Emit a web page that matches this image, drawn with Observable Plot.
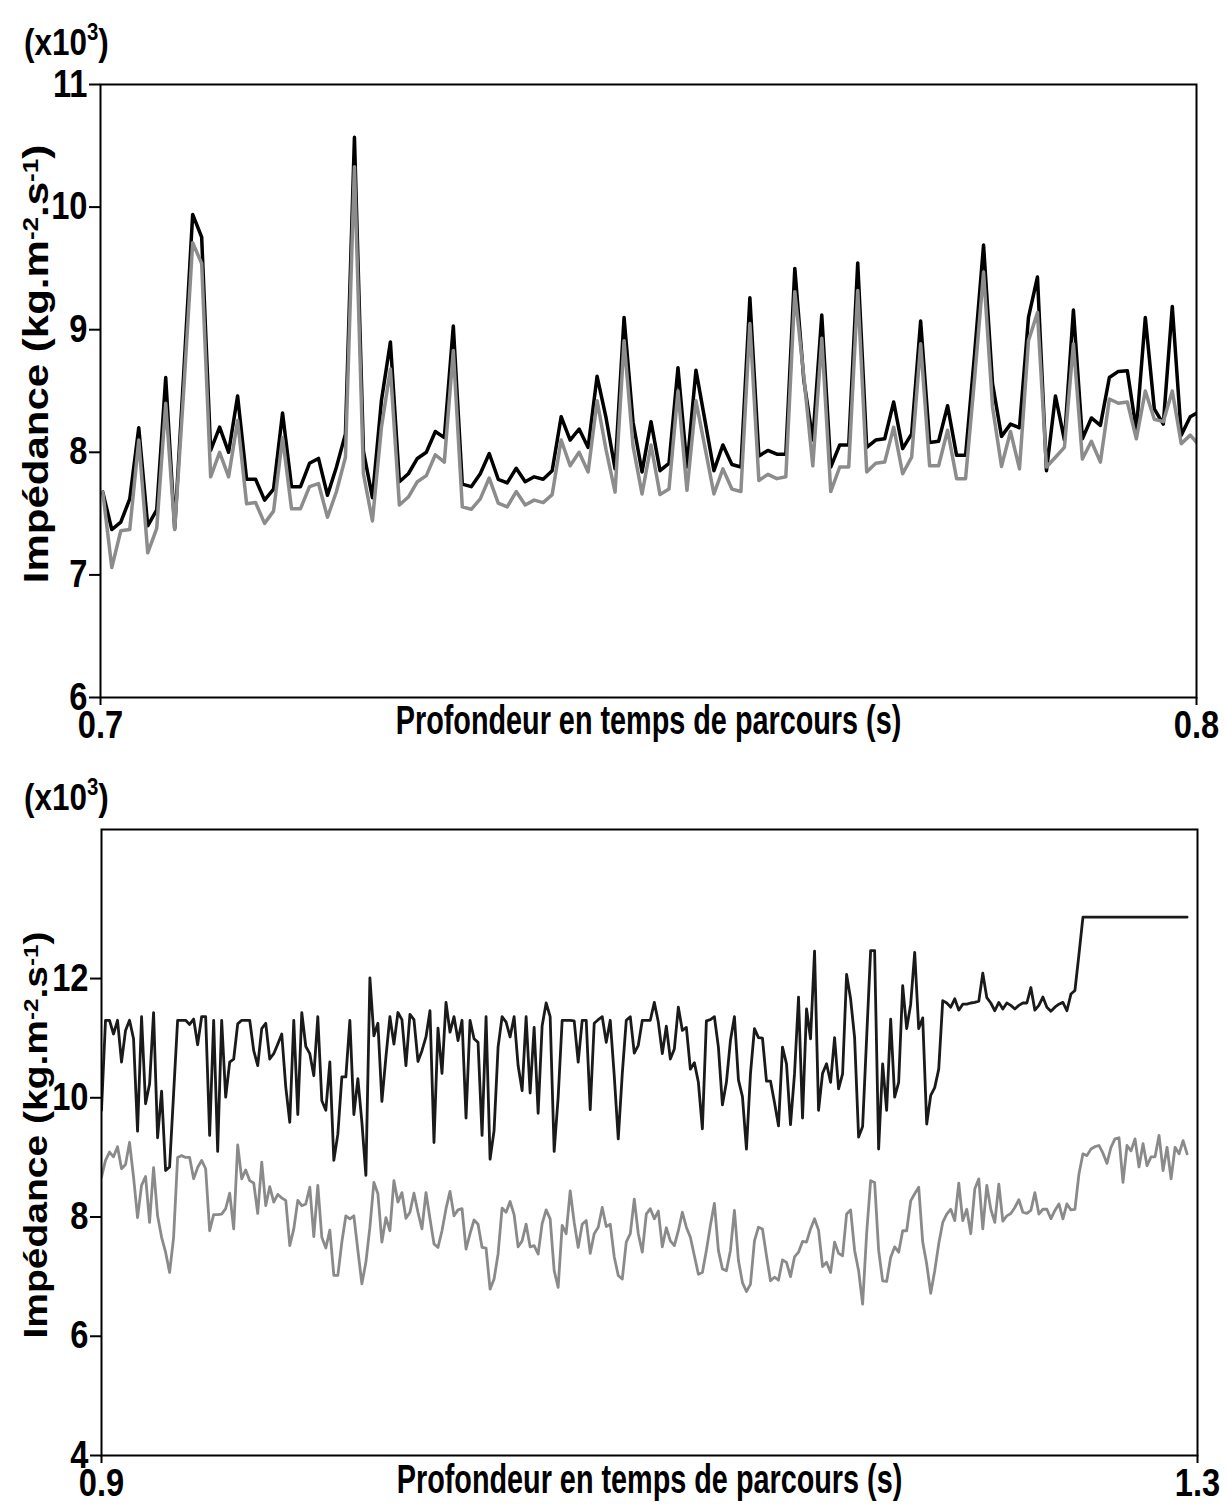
<!DOCTYPE html>
<html>
<head>
<meta charset="utf-8">
<script src="https://cdn.jsdelivr.net/npm/d3@7"></script>
<script src="https://cdn.jsdelivr.net/npm/@observablehq/plot@0.6"></script>
<style>
  body { margin: 0; background: #fff; }
  #wrap { position: relative; width: 1227px; height: 1504px; overflow: hidden; background: #fff;
          font-family: "Liberation Sans", Arial, sans-serif; font-weight: bold; color: #000; }
  .panel { position: absolute; left: 0; }
  .unit { position: absolute; left: 24px; font-size: 37px; line-height: 1; white-space: nowrap;
          transform: scaleX(0.85); transform-origin: 0 0; }
  .unit sup { font-size: 24px; vertical-align: 0; position: relative; top: -15px; }
  .ylab { position: absolute; white-space: nowrap; line-height: 1;
          transform: translate(-50%, -50%) rotate(-90deg) scaleY(0.85); }
  .ylab sup { font-size: 0.62em; vertical-align: 0; position: relative; top: -0.45em; }
</style>
</head>
<body>
<div id="wrap">
  <div class="unit" style="top:24px">(x10<sup>3</sup>)</div>
  <div class="unit" style="top:779px">(x10<sup>3</sup>)</div>
  <div class="ylab" style="left:36px; top:364px; font-size:42px">Impédance (kg.m<sup>-2</sup>.s<sup>-1</sup>)</div>
  <div class="ylab" style="left:36px; top:1135px; font-size:39px">Impédance (kg.m<sup>-2</sup>.s<sup>-1</sup>)</div>
</div>
<script>
// ---------- Top panel: 0.7 – 0.8 s ----------
const topStart = 0.70021;      // first sample time (s)
const topStep = 0.00082;       // sample interval (s)
const topBlack = [
  7.675, 7.37, 7.43, 7.62, 8.20, 7.40, 7.53, 8.61, 7.38, 8.64,
  9.94, 9.755, 8.015, 8.205, 8.00, 8.46, 7.78, 7.78, 7.61, 7.70,
  8.32, 7.72, 7.72, 7.91, 7.95, 7.65, 7.88, 8.15, 10.57, 8.01,
  7.63, 8.42, 8.90, 7.76, 7.825, 7.95, 8.00, 8.17, 8.12, 9.03,
  7.74, 7.72, 7.825, 7.99, 7.78, 7.75, 7.87, 7.76, 7.80, 7.78,
  7.85, 8.29, 8.10, 8.19, 8.04, 8.62, 8.28, 7.865, 9.10, 8.245,
  7.84, 8.25, 7.85, 7.91, 8.69, 7.88, 8.67, 8.26, 7.85, 8.06,
  7.90, 7.88, 9.26, 7.97, 8.015, 7.985, 7.985, 9.50, 8.59, 8.10,
  9.12, 7.88, 8.06, 8.06, 9.545, 8.04, 8.10, 8.11, 8.41, 8.03,
  8.15, 9.07, 8.08, 8.09, 8.38, 7.975, 7.975, 8.80, 9.69, 8.56,
  8.13, 8.23, 8.20, 9.10, 9.43, 7.85, 8.46, 8.10, 9.16, 8.11,
  8.28, 8.22, 8.61, 8.66, 8.665, 8.18, 9.10, 8.355, 8.23, 9.19,
  8.14, 8.29, 8.33
];
const topGray = [
  7.675, 7.06, 7.36, 7.37, 8.10, 7.18, 7.38, 8.40, 7.37, 8.50,
  9.71, 9.54, 7.80, 8.00, 7.80, 8.26, 7.58, 7.59, 7.42, 7.52,
  8.12, 7.54, 7.54, 7.72, 7.745, 7.47, 7.68, 7.96, 10.33, 7.825,
  7.44, 8.20, 8.68, 7.57, 7.635, 7.76, 7.81, 7.98, 7.92, 8.83,
  7.555, 7.535, 7.62, 7.79, 7.585, 7.555, 7.68, 7.57, 7.61, 7.59,
  7.655, 8.10, 7.89, 8.00, 7.84, 8.42, 8.02, 7.675, 8.91, 8.05,
  7.66, 8.06, 7.655, 7.70, 8.50, 7.69, 8.42, 8.04, 7.66, 7.865,
  7.70, 7.68, 9.05, 7.77, 7.82, 7.785, 7.80, 9.31, 8.62, 7.89,
  8.93, 7.68, 7.88, 7.88, 9.32, 7.84, 7.91, 7.92, 8.205, 7.825,
  7.96, 8.885, 7.89, 7.89, 8.18, 7.785, 7.785, 8.60, 9.47, 8.37,
  7.885, 8.17, 7.865, 8.91, 9.14, 7.88, 7.96, 8.04, 8.885, 7.945,
  8.09, 7.92, 8.435, 8.40, 8.41, 8.11, 8.50, 8.27, 8.25, 8.50,
  8.07, 8.14, 8.055
];
const topXTicks = [0.7, 0.8];
const topYTicks = [6, 7, 8, 9, 10, 11];

// ---------- Bottom panel: 0.9 – 1.3 s ----------
const botStart = 0.9;
const botStep = 0.001462;
const botBlack = [
  9.79, 11.30, 11.30, 11.07, 11.30, 10.60, 11.13, 11.30, 10.99, 9.44,
  11.36, 9.90, 10.23, 11.43, 9.33, 10.11, 8.78, 8.84, 10.07, 11.30,
  11.30, 11.30, 11.23, 11.32, 10.89, 11.36, 11.36, 9.37, 11.30, 9.10,
  11.30, 10.01, 10.60, 10.65, 11.24, 11.30, 11.30, 11.30, 10.79, 10.54,
  11.16, 11.25, 10.65, 10.74, 10.90, 11.07, 10.18, 9.59, 11.30, 9.72,
  11.43, 10.86, 10.74, 10.37, 11.36, 9.95, 9.79, 10.60, 8.95, 9.39,
  10.35, 10.35, 11.30, 9.72, 10.32, 9.59, 8.70, 12.01, 11.04, 11.25,
  9.94, 10.68, 11.36, 10.90, 11.43, 11.31, 10.54, 11.40, 11.31, 10.61,
  10.79, 11.02, 11.46, 9.25, 11.17, 10.41, 11.60, 11.10, 11.36, 10.96,
  11.30, 9.66, 11.30, 10.99, 10.93, 9.37, 11.36, 8.97, 9.45, 10.85,
  11.36, 11.27, 11.02, 11.36, 10.54, 10.12, 11.36, 10.08, 11.18, 9.74,
  11.21, 11.59, 11.36, 9.10, 10.01, 11.30, 11.30, 11.30, 11.29, 10.60,
  11.30, 11.30, 9.80, 11.25, 11.31, 11.36, 10.93, 11.30, 10.37, 9.31,
  10.40, 11.30, 11.36, 10.75, 10.88, 11.30, 11.30, 11.30, 11.60, 11.27,
  10.74, 11.20, 10.65, 10.82, 11.52, 11.13, 11.18, 10.48, 10.59, 10.26,
  9.48, 11.29, 11.31, 11.36, 10.85, 9.88, 10.26, 10.96, 11.36, 10.30,
  10.02, 9.14, 10.40, 11.16, 11.01, 11.00, 10.28, 10.28, 9.92, 9.53,
  10.85, 10.57, 9.55, 10.40, 11.69, 9.66, 11.49, 10.99, 12.46, 9.79,
  10.41, 10.57, 10.26, 11.01, 10.15, 10.40, 12.07, 11.66, 11.01, 9.34,
  9.52, 11.00, 12.47, 12.47, 9.14, 10.57, 9.79, 11.32, 10.01, 10.26,
  11.88, 11.16, 11.57, 12.44, 11.16, 11.34, 9.56, 10.04, 10.17, 10.48,
  11.63, 11.59, 11.52, 11.66, 11.47, 11.57, 11.57, 11.59, 11.60, 11.62,
  12.09, 11.68, 11.59, 11.46, 11.60, 11.49, 11.59, 11.55, 11.49, 11.55,
  11.59, 11.59, 11.85, 11.47, 11.55, 11.69, 11.52, 11.45, 11.52, 11.57,
  11.60, 11.46, 11.74, 11.80, 12.40, 13.03, 13.03, 13.03, 13.03, 13.03,
  13.03, 13.03, 13.03, 13.03, 13.03, 13.03, 13.03, 13.03, 13.03, 13.03,
  13.03, 13.03, 13.03, 13.03, 13.03, 13.03, 13.03, 13.03, 13.03, 13.03,
  13.03, 13.03
];
const botGray = [
  8.67, 8.95, 9.09, 9.01, 9.18, 8.81, 8.88, 9.25, 8.67, 7.99,
  8.53, 8.68, 7.91, 8.83, 8.02, 7.66, 7.41, 7.07, 7.66, 9.00,
  9.03, 9.00, 9.00, 8.64, 8.83, 8.95, 8.81, 7.77, 8.04, 8.04,
  8.05, 8.14, 8.40, 7.80, 9.21, 8.64, 8.79, 8.61, 8.57, 8.06,
  8.92, 8.19, 8.51, 8.25, 8.38, 8.32, 8.28, 7.52, 7.80, 8.28,
  8.19, 8.22, 8.50, 7.67, 8.53, 7.66, 7.48, 7.78, 7.02, 7.02,
  7.58, 8.02, 7.97, 8.02, 7.44, 6.88, 7.24, 7.83, 8.58, 8.39,
  7.58, 7.99, 7.77, 8.61, 8.25, 8.41, 7.98, 8.08, 8.40, 8.08,
  7.80, 8.41, 7.97, 7.55, 7.49, 7.77, 8.14, 8.43, 8.02, 8.12,
  8.14, 7.46, 7.72, 7.95, 7.88, 7.49, 7.48, 6.79, 6.96, 7.38,
  8.15, 8.08, 8.26, 8.04, 7.50, 7.60, 7.88, 7.50, 7.52, 7.38,
  7.89, 8.12, 7.97, 7.10, 6.82, 7.86, 7.72, 8.44, 7.91, 7.49,
  7.88, 7.94, 7.39, 7.72, 7.83, 8.16, 7.84, 7.88, 7.33, 7.02,
  6.96, 7.58, 7.72, 8.30, 7.72, 7.41, 8.05, 8.14, 7.97, 8.10,
  7.50, 7.82, 7.60, 7.52, 7.77, 8.08, 7.83, 7.66, 7.35, 7.04,
  7.07, 7.44, 7.86, 8.23, 7.44, 7.13, 7.10, 7.44, 8.11, 7.27,
  6.90, 6.75, 6.87, 7.60, 7.83, 7.80, 7.35, 6.93, 6.99, 6.94,
  7.28, 7.24, 7.00, 7.33, 7.41, 7.59, 7.58, 7.80, 7.97, 7.78,
  7.17, 7.24, 7.07, 7.58, 7.39, 7.35, 8.05, 8.12, 7.44, 7.10,
  6.54, 7.72, 8.61, 8.58, 7.44, 6.93, 6.92, 7.32, 7.50, 7.41,
  7.77, 7.77, 8.27, 8.39, 8.50, 7.58, 7.21, 6.72, 7.10, 7.55,
  7.91, 8.05, 8.13, 7.94, 8.57, 7.94, 8.13, 7.72, 8.47, 8.64,
  7.80, 8.53, 8.13, 7.91, 8.55, 7.93, 8.02, 8.06, 8.16, 8.29,
  8.08, 8.06, 8.11, 8.41, 8.05, 8.13, 8.13, 7.97, 8.11, 8.22,
  7.97, 8.22, 8.12, 8.13, 8.72, 9.06, 9.03, 9.14, 9.18, 9.20,
  9.07, 8.90, 9.17, 9.31, 9.33, 8.58, 9.20, 9.11, 9.31, 8.84,
  9.23, 8.86, 9.01, 9.01, 9.37, 8.78, 9.17, 8.64, 9.17, 9.06,
  9.28, 9.06
];
const botXTicks = [0.9, 1.3];
const botYTicks = [4, 6, 8, 10, 12];

const xLabel = "Profondeur en temps de parcours (s)";
const FONT = '"Liberation Sans", Arial, sans-serif';

function toRows(start, step, black, gray) {
  return black.map((b, i) => ({ t: start + i * step, black: b, gray: gray[i] }));
}

function panel({ rows, xDomain, yDomain, xTicks, yTicks, height, margins, lw, blackColor, grayColor, labelDy }) {
  return Plot.plot({
    width: 1227,
    height,
    ...margins,
    x: { domain: xDomain },
    y: { domain: yDomain },
    style: { fontFamily: FONT, fontWeight: "bold", fontSize: "38px", color: "#000", background: "transparent", overflow: "visible" },
    marks: [
      Plot.line(rows, { x: "t", y: "black", stroke: blackColor, strokeWidth: lw, clip: true }),
      Plot.line(rows, { x: "t", y: "gray", stroke: grayColor, strokeWidth: lw, clip: true }),
      Plot.frame({ stroke: "#000", strokeWidth: 2 }),
      Plot.axisY({ ticks: yTicks, tickSize: 11, tickPadding: 2, label: null, strokeWidth: 2,
                   fontSize: 38, fontWeight: "bold", tickFormat: d => String(d) }),
      Plot.axisX({ ticks: xTicks, tickSize: 8, tickPadding: 6, label: null, strokeWidth: 2,
                   fontSize: 38, fontWeight: "bold", tickFormat: d => d.toFixed(1) }),
      Plot.text([xLabel], { frameAnchor: "bottom", lineAnchor: "middle", dy: labelDy, fontSize: 40, fontWeight: "bold", fill: "#000" })
    ]
  });
}

// horizontally condense the text glyphs around their own anchor (the reference uses a narrow bold face)
function condense(svg) {
  svg.querySelectorAll("text").forEach(t => {
    const s = t.textContent === xLabel ? 0.72 : 0.86;
    const x = parseFloat(t.getAttribute("x") || "0") || 0;
    const tr = t.getAttribute("transform") || "";
    t.setAttribute("transform", `${tr} translate(${x},0) scale(${s},1) translate(${-x},0)`);
  });
  return svg;
}

const topPlot = condense(panel({
  rows: toRows(topStart, topStep, topBlack, topGray),
  xDomain: [0.7, 0.8], yDomain: [6, 11], xTicks: topXTicks, yTicks: topYTicks,
  height: 760, margins: { marginLeft: 100, marginRight: 31, marginTop: 84, marginBottom: 63 },
  lw: 3.5, blackColor: "#000", grayColor: "#8c8c8c", labelDy: 24
}));
const botPlot = condense(panel({
  rows: toRows(botStart, botStep, botBlack, botGray),
  xDomain: [0.9, 1.3], yDomain: [4, 14.5], xTicks: botXTicks, yTicks: botYTicks,
  height: 744, margins: { marginLeft: 101, marginRight: 30, marginTop: 69, marginBottom: 49 },
  lw: 2.8, blackColor: "#1a1a1a", grayColor: "#8a8a8a", labelDy: 25
}));

const wrap = document.getElementById("wrap");
topPlot.classList.add("panel"); topPlot.style.top = "0px";
botPlot.classList.add("panel"); botPlot.style.top = "760px";
wrap.prepend(botPlot);
wrap.prepend(topPlot);
</script>
</body>
</html>
